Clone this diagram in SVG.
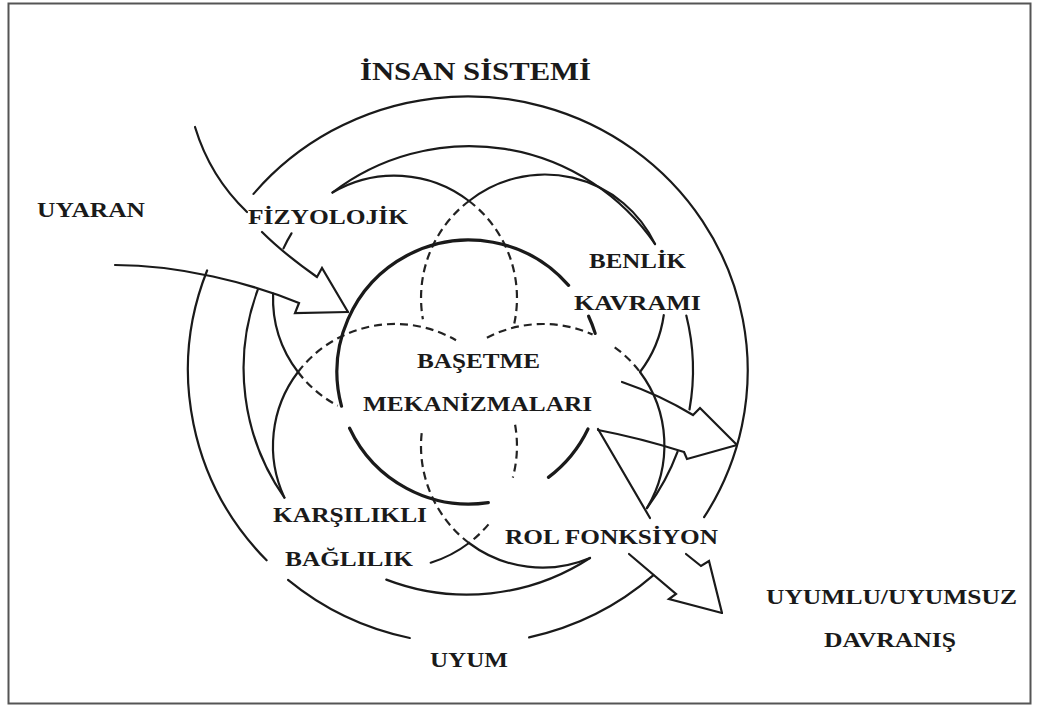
<svg xmlns="http://www.w3.org/2000/svg" width="1039" height="706" viewBox="0 0 1039 706">
<style>
.ln{fill:none;stroke:#1a1a1a;stroke-width:2.2;stroke-linecap:round;stroke-linejoin:miter}
.thick{fill:none;stroke:#1a1a1a;stroke-width:3.2;stroke-linecap:round}
.dash{fill:none;stroke:#222;stroke-width:2.2;stroke-dasharray:8 5}
.lbl{font-family:"Liberation Serif","Times New Roman",serif;font-weight:bold;font-size:22px;fill:#1a1a1a}
.ttl{font-family:"Liberation Serif","Times New Roman",serif;font-weight:bold;font-size:26px;fill:#1a1a1a}
</style>
<rect x="0" y="0" width="1039" height="706" fill="#fff"/>
<rect x="8.5" y="3.5" width="1022" height="700" fill="none" stroke="#555" stroke-width="2"/>

<g id="rings">
  <g id="outer-ring">
    <path class="ln" d="M253.5,193.9 A280,274 0 0 1 704.1,517.2"/>
    <path class="ln" d="M653.5,575.2 A280,274 0 0 1 529.1,637.4"/>
    <path class="ln" d="M409.8,638 A280,274 0 0 1 288,579.9"/>
    <path class="ln" d="M266.6,560.3 A280,274 0 0 1 207.1,270.5"/>
  </g>
  <g id="second-ring">
    <path class="ln" d="M332.5,192.5 A225,225 0 0 1 655,244"/>
    <path class="ln" d="M686.3,315.6 A225,225 0 0 1 689.5,409.5"/>
    <path class="ln" d="M677.6,451.7 A225,225 0 0 1 647,508"/>
    <path class="ln" d="M590,558 A225,225 0 0 1 386.3,579.6"/>
    <path class="ln" d="M284.4,497.6 A225,225 0 0 1 257.8,289.7"/>
  </g>
</g>

<g id="mode-circles">
  <g id="circle-p">
    <path class="ln" d="M273.1,293.7 A122,122 0 0 0 298,372"/>
    <path class="dash" d="M298,372 A122,122 0 0 0 337.7,405.7"/>
    <path class="ln" d="M332.5,192.5 A122,122 0 0 1 469,201"/>
    <path class="dash" d="M469,201 A122,122 0 0 1 514.3,323.4"/>
    <path class="ln" d="M283.5,248.4 A122,122 0 0 1 291.5,233.3"/>
  </g>
  <g id="circle-q">
    <path class="ln" d="M469,201 A122,122 0 0 1 655,244"/>
    <path class="ln" d="M663.8,315 A122,122 0 0 1 640,372"/>
    <path class="dash" d="M469,201 A122,122 0 0 0 422.9,319.2"/>
  </g>
  <g id="circle-r">
    <path class="ln" d="M298,372 A122,122 0 0 0 284.4,497.6"/>
    <path class="dash" d="M298,372 A122,122 0 0 1 456,340.3"/>
    <path class="dash" d="M515.1,424.8 A122,122 0 0 1 512.8,477.6"/>
    <path class="dash" d="M488.5,524.4 A122,122 0 0 1 469,543"/>
    <path class="ln" d="M430.7,562.7 A122,122 0 0 0 469,543"/>
  </g>
  <g id="circle-s">
    <path class="dash" d="M486.9,337.7 A122,122 0 0 1 592.6,334.5"/>
    <path class="dash" d="M614.7,347.3 A122,122 0 0 1 640,372"/>
    <path class="ln" d="M640,372 A122,122 0 0 1 647,508"/>
    <path class="ln" d="M590,558 A122,122 0 0 1 469,543"/>
    <path class="dash" d="M469,543 A122,122 0 0 1 421.9,431.1"/>
  </g>
</g>

<g id="basetme">
  <path class="thick" d="M341.5,406.2 A132,132 0 0 1 568.6,285.4"/>
  <path class="thick" d="M588.6,316.2 A132,132 0 0 1 595.2,333.4"/>
  <path class="thick" d="M588,429 A132,132 0 0 1 548.4,477.4"/>
  <path class="thick" d="M488.3,502.6 A132,132 0 0 1 349.6,428.2"/>
  <text class="lbl" x="417" y="368" textLength="123" lengthAdjust="spacingAndGlyphs">BAŞETME</text>
  <text class="lbl" x="363" y="411" textLength="229" lengthAdjust="spacingAndGlyphs">MEKANİZMALARI</text>
</g>

<g id="connectors">
  <path class="ln" d="M195,127 C205,160 224,190 247,212"/>
  <path class="ln" d="M262,232 C280,250 300,265 317,277 L322,268 L348,312"/>
  <path class="ln" d="M115,265 C180,265 250,283 299,303 L295,313 L348,312"/>
  <path class="ln" d="M622,382 Q660,395 693,415 L700,408 L737,445"/>
  <path class="ln" d="M598,430 Q640,438 684,452 L687,459 L737,445"/>
  <path class="ln" d="M598,429 L650,518"/>
  <path class="ln" d="M629,554 L676,594 L669,599 L722,613"/>
  <path class="ln" d="M686,554 L701,566 L709,561 L722,613"/>
</g>

<g id="title"><text class="ttl" x="360" y="80" textLength="231" lengthAdjust="spacingAndGlyphs">İNSAN SİSTEMİ</text></g>
<g id="uyaran"><text class="lbl" x="37" y="217" textLength="108" lengthAdjust="spacingAndGlyphs">UYARAN</text></g>
<g id="fizyolojik"><text class="lbl" x="248" y="224" textLength="160" lengthAdjust="spacingAndGlyphs">FİZYOLOJİK</text></g>
<g id="benlik">
  <text class="lbl" x="589" y="268" textLength="97" lengthAdjust="spacingAndGlyphs">BENLİK</text>
  <text class="lbl" x="574" y="310" textLength="127" lengthAdjust="spacingAndGlyphs">KAVRAMI</text>
</g>
<g id="karsilikli">
  <text class="lbl" x="273" y="522" textLength="154" lengthAdjust="spacingAndGlyphs">KARŞILIKLI</text>
  <text class="lbl" x="285" y="566" textLength="128" lengthAdjust="spacingAndGlyphs">BAĞLILIK</text>
</g>
<g id="rol"><text class="lbl" x="505" y="544" textLength="213" lengthAdjust="spacingAndGlyphs">ROL FONKSİYON</text></g>
<g id="uyum"><text class="lbl" x="430" y="667" textLength="78" lengthAdjust="spacingAndGlyphs">UYUM</text></g>
<g id="davranis">
  <text class="lbl" x="766" y="604" textLength="251" lengthAdjust="spacingAndGlyphs">UYUMLU/UYUMSUZ</text>
  <text class="lbl" x="824" y="647" textLength="132" lengthAdjust="spacingAndGlyphs">DAVRANIŞ</text>
</g>
</svg>
